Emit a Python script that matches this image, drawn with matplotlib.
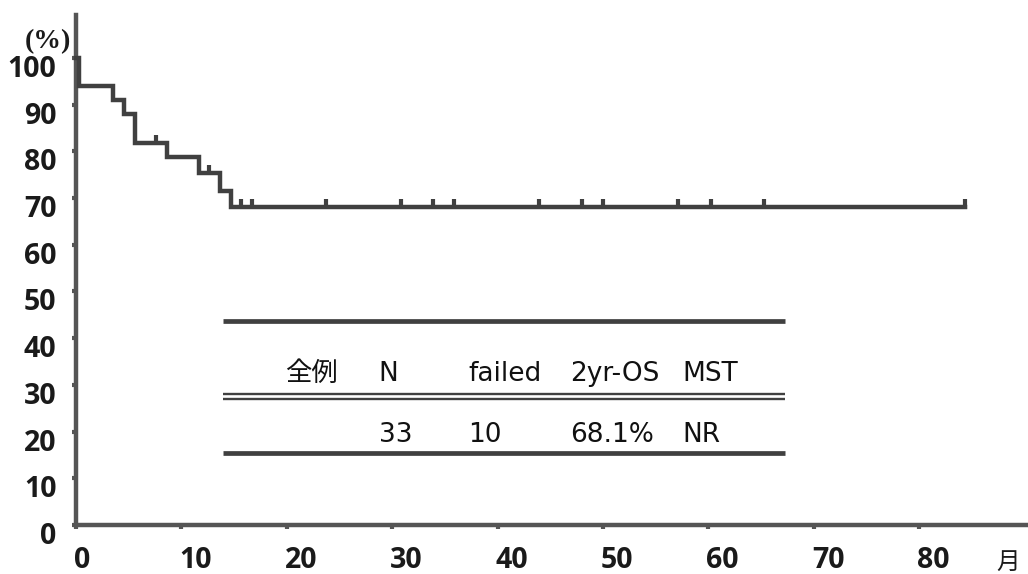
import numpy as np
import matplotlib
matplotlib.use('Agg')
import matplotlib.pyplot as plt
import matplotlib.transforms as mtransforms

# Kaplan-Meier curve (months, % surviving)
event_months = [0.3, 3.5, 4.6, 5.6, 8.6, 11.7, 13.7, 14.7]
surv_after = [93.9, 91.0, 88.0, 81.8, 78.8, 75.4, 71.6, 68.1]
censor_months = [7.6, 12.6, 15.7, 16.7, 23.7, 30.8, 33.9, 35.9, 43.9,
                 48.0, 50.0, 57.1, 60.2, 65.3, 84.3]
last_month = 84.3

x_ticks = [0, 10, 20, 30, 40, 50, 60, 70, 80]
y_ticks = [0, 10, 20, 30, 40, 50, 60, 70, 80, 90, 100]

# summary table
table_header = ['全例', 'N', 'failed', '2yr-OS', 'MST']
table_row = ['', '33', '10', '68.1%', 'NR']
col_x = [19.8, 28.7, 37.2, 46.9, 57.5]

line_col = '#404040'
cjk = ['DejaVu Sans', 'Noto Sans CJK JP']

fig = plt.figure(figsize=(10.28, 5.74), dpi=100)
ax = fig.add_axes([0.0739, 0.0854, 0.926, 0.8885])

xs = np.r_[0, event_months, last_month]
ys = np.r_[100, surv_after, surv_after[-1]]
ax.step(xs, ys, where='post', color=line_col, lw=3.2, solid_joinstyle='miter',
        zorder=3, clip_on=False)

# censor ticks sit on the curve
idx = np.searchsorted(event_months, censor_months, side='right')
cy = np.r_[100, surv_after][idx]
ax.plot(censor_months, np.array(cy) + 0.6, ls='none', marker='|', ms=7,
        mew=3, color=line_col, zorder=3, clip_on=False)

# table rules
x0, x1 = 13.9, 67.3
ax.hlines([43.6, 15.4], x0, x1, color=line_col, lw=3.4)
ax.hlines([28.0, 26.9], x0, x1, color=line_col, lw=1.7)
for x, h, r in zip(col_x, table_header, table_row):
    ax.text(x, 32.4, h, fontsize=19, family=cjk, color='#111', va='center', ha='left')
    if r:
        ax.text(x, 19.3, r, fontsize=19, family=cjk, color='#111', va='center', ha='left')

ax.set_xlim(0, 90.3)
ax.set_ylim(0, 109.2)
ax.set_xticks(x_ticks)
ax.set_yticks(y_ticks)
for s in ['top', 'right']:
    ax.spines[s].set_visible(False)
for s in ['left', 'bottom']:
    ax.spines[s].set_linewidth(3.2)
    ax.spines[s].set_color('#555555')
ax.tick_params(axis='both', width=3, length=3, color='#555555',
               labelsize=20.5, labelcolor='#1a1a1a')
ax.tick_params(axis='x', pad=28)
ax.tick_params(axis='y', pad=11)

# labels in the scan sit a little off their ticks
down = mtransforms.ScaledTranslation(0, -8 / 100, fig.dpi_scale_trans)
left = mtransforms.ScaledTranslation(-2 / 100, 0, fig.dpi_scale_trans)
for lab in ax.get_yticklabels():
    lab.set_family('Open Sans')
    lab.set_fontweight('bold')
    lab.set_transform(lab.get_transform() + down)
for lab in ax.get_xticklabels():
    lab.set_family('Open Sans')
    lab.set_fontweight('bold')
    lab.set_ha('left')
    lab.set_va('baseline')
    lab.set_transform(lab.get_transform() + left)

ax.text(-0.054, 0.947, '(%)', transform=ax.transAxes, fontsize=20,
        family='Liberation Serif', fontweight='bold', ha='left', va='center',
        color='#1a1a1a')
trans = mtransforms.blended_transform_factory(ax.transData, fig.transFigure)
ax.text(88.4, 1 - 562 / 574, '月', transform=trans, fontsize=17,
        family=cjk, ha='center', va='center', color='#1a1a1a')

fig.savefig('out.png', dpi=100)
